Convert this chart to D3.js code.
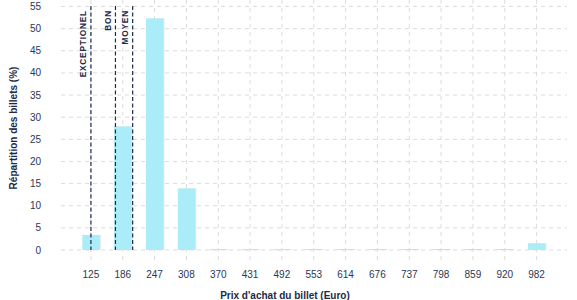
<!DOCTYPE html>
<html>
<head>
<meta charset="utf-8">
<script src="https://cdn.jsdelivr.net/npm/d3@7"></script>
<style>
body{margin:0;background:#fff;}
svg text{font-family:"Liberation Sans",Arial,sans-serif;}
</style>
</head>
<body>
<div id="chart"></div>
<script>
// prix et répartition
const prix=["125","186","247","308","370","431","492","553","614","676","737","798","859","920","982"];
const repartition=[3.4,27.9,52.3,13.9,0.2,0.2,0.2,0.2,0.2,0.2,0.2,0.2,0.2,0.2,1.5];
const yTicks=[0,5,10,15,20,25,30,35,40,45,50,55];
// seuils (positions en euros)
const seuilNoms=["EXCEPTIONEL","BON","MOYEN"];
const seuilValeurs=[125,172,205];

const W=577,H=300;
const m={left:61,right:10,top:6,bottom:50};
const svg=d3.select("#chart").append("svg").attr("width",W).attr("height",H);

const x=d3.scaleBand().domain(prix).range([75,552.5]).paddingInner(0.46).paddingOuter(0.23);
const y=d3.scaleLinear().domain([0,55]).range([250,6.5]);
// échelle continue en euros pour les seuils
const xe=d3.scaleLinear().domain([125,186]).range([x("125")+x.bandwidth()/2,x("186")+x.bandwidth()/2]);

const grid="#dcdcdc",ink="#1c2a48";

// grille horizontale
svg.append("g").selectAll("line").data(yTicks).enter().append("line")
    .attr("x1",m.left).attr("x2",W-m.right)
    .attr("y1",d=>y(d)).attr("y2",d=>y(d))
    .attr("stroke",grid).attr("stroke-dasharray","4,4");
// grille verticale
svg.append("g").selectAll("line").data(prix).enter().append("line")
    .attr("x1",d=>x(d)+x.bandwidth()/2).attr("x2",d=>x(d)+x.bandwidth()/2)
    .attr("y1",0).attr("y2",260)
    .attr("stroke",grid).attr("stroke-dasharray","4,4");

// barres
let bars=svg.append("g").selectAll("g").data(prix).enter().append("g");
bars.append("rect")
    .attr("x",d=>x(d)+1.2).attr("width",x.bandwidth())
    .attr("y",(d,i)=>y(repartition[i])).attr("height",(d,i)=>y(0)-y(repartition[i]))
    .attr("fill","#e2e2e2");
bars.append("rect")
    .attr("x",d=>x(d)).attr("width",x.bandwidth())
    .attr("y",(d,i)=>y(repartition[i])).attr("height",(d,i)=>y(0)-y(repartition[i]))
    .attr("fill","#aaedf8");

// seuils
let s=svg.append("g").selectAll("g").data(seuilNoms).enter().append("g");
s.append("line")
    .attr("x1",(d,i)=>xe(seuilValeurs[i])).attr("x2",(d,i)=>xe(seuilValeurs[i]))
    .attr("y1",6).attr("y2",250)
    .attr("stroke",ink).attr("stroke-width",1.2).attr("stroke-dasharray","4,2.5");
s.append("text")
    .attr("transform",(d,i)=>"translate("+(xe(seuilValeurs[i])-4.5)+",10) rotate(-90)")
    .attr("text-anchor","end")
    .attr("font-size",8.3).attr("font-weight","bold").attr("letter-spacing",0.8)
    .attr("fill",ink).text(d=>d);

// étiquettes axe y
svg.append("g").selectAll("text").data(yTicks).enter().append("text")
    .attr("x",41).attr("y",d=>y(d)+3.5)
    .attr("text-anchor","end").attr("font-size",10).attr("fill","#2a3755")
    .text(d=>d);
// étiquettes axe x
svg.append("g").selectAll("text").data(prix).enter().append("text")
    .attr("x",d=>x(d)+x.bandwidth()/2).attr("y",278)
    .attr("text-anchor","middle").attr("font-size",10).attr("fill","#2a3755")
    .text(d=>d);

// titres
svg.append("text").attr("x",285).attr("y",299)
    .attr("text-anchor","middle").attr("font-size",10).attr("font-weight","bold").attr("fill",ink)
    .text("Prix d'achat du billet (Euro)");
svg.append("text").attr("transform","translate(17,128) rotate(-90)")
    .attr("text-anchor","middle").attr("font-size",10).attr("font-weight","bold").attr("fill",ink)
    .text("Répartition des billets (%)");
</script>
</body>
</html>
